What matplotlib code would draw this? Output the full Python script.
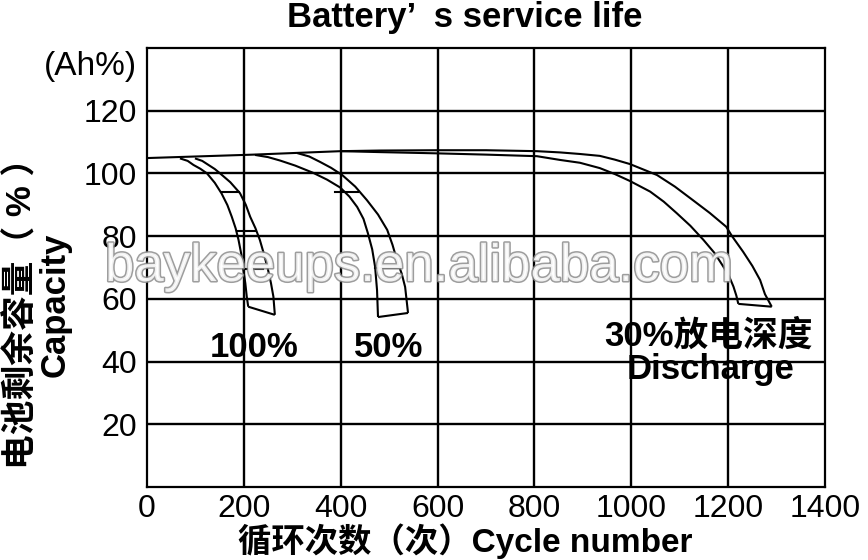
import matplotlib
matplotlib.use('Agg')
import matplotlib.pyplot as plt
import matplotlib.patheffects as pe

plt.rcParams['font.family'] = ['Liberation Sans', 'Noto Sans CJK SC', 'DejaVu Sans']

# ---------------- data ----------------
title = "Battery’  s service life"
x_label = "循环次数（次）Cycle number"
y_label_cn = "电池剩余容量（ % ）"
y_label_en = "Capacity"
unit_label = "(Ah%)"
watermark = "baykeeups.en.alibaba.com"

x_ticks = [0, 200, 400, 600, 800, 1000, 1200, 1400]
y_ticks = [20, 40, 60, 80, 100, 120]

# 30% depth of discharge (upper curve includes the common top line)
d30_upper_x = [0, 100, 220, 400, 480, 600, 700, 805, 853, 894, 935, 966, 997, 1053, 1090, 1127, 1162, 1196, 1208, 1231, 1250, 1266, 1276, 1290]
d30_upper_y = [104.9, 105.4, 106.0, 107.1, 107.3, 107.4, 107.4, 107.1, 106.7, 106.2, 105.6, 104.4, 103.0, 99.5, 95.8, 91.5, 87.4, 83.0, 80.0, 75.0, 70.5, 66.0, 61.5, 57.5]
d30_lower_x = [400, 481, 600, 700, 805, 853, 894, 935, 966, 997, 1039, 1067, 1094, 1122, 1149, 1172, 1190, 1202, 1211, 1217, 1221]
d30_lower_y = [107.1, 106.8, 106.4, 106.0, 105.5, 104.3, 103.4, 101.7, 99.8, 97.6, 94.2, 91.0, 87.3, 83.3, 78.8, 74.6, 70.3, 67.2, 63.9, 61.0, 58.4]
d30_bottom_x = [1221, 1290]
d30_bottom_y = [58.4, 57.5]

# 50% depth of discharge
d50_inner_x = [223, 250, 275, 306, 343, 372, 399, 418, 434, 447, 456, 465, 471, 475, 477]
d50_inner_y = [105.9, 105.2, 104.1, 102.5, 100.2, 98.0, 95.5, 92.6, 89.3, 85.5, 81.0, 75.8, 70.2, 62.8, 54.2]
d50_outer_x = [310, 335, 357, 380, 403, 430, 454, 477, 496, 507, 516, 526, 533, 539]
d50_outer_y = [106.5, 105.4, 103.7, 101.8, 99.5, 95.8, 91.5, 86.9, 82.0, 77.2, 72.4, 68.0, 63.8, 55.5]
d50_bottom_x = [477, 539]
d50_bottom_y = [54.2, 55.5]
d50_rungs = [(94.1, 388, 436), (69.8, 471, 518)]

# 100% depth of discharge
d100_inner_x = [68, 84, 96, 110, 124, 140, 154, 166, 175, 183, 189, 195, 199, 203, 206, 209]
d100_inner_y = [104.8, 104.0, 102.7, 101.5, 100.0, 97.0, 93.6, 89.9, 86.2, 82.5, 78.8, 74.0, 69.2, 65.0, 60.7, 57.5]
d100_outer_x = [99, 114, 127, 140, 151, 172, 192, 204, 213, 224, 233, 242, 250, 256, 261, 264]
d100_outer_y = [104.8, 104.0, 102.7, 101.4, 100.0, 97.2, 93.7, 90.0, 86.2, 82.5, 78.8, 74.0, 69.2, 65.0, 60.7, 54.9]
d100_bottom_x = [209, 264]
d100_bottom_y = [57.5, 54.9]
d100_rungs = [(94.1, 155, 190), (81.6, 186, 223), (69.5, 198, 240)]

labels = [("100%", 221, 44.6), ("50%", 498, 44.6),
          ("30%放电深度", 1159, 48.0), ("Discharge", 1163, 37.6)]

# ---------------- figure ----------------
fig = plt.figure(figsize=(8.68, 5.6), dpi=100)
ax = fig.add_axes([147 / 868, 1 - 487 / 560, 678 / 868, 439 / 560])

ax.set_xlim(0, 1400)
ax.set_ylim(0, 140)
ax.set_xticks(x_ticks)
ax.set_yticks(y_ticks)
ax.tick_params(length=0, labelsize=23)
ax.tick_params(axis='x', pad=5)
ax.tick_params(axis='y', pad=7)
for s in ax.spines.values():
    s.set_linewidth(1.6)
    s.set_color('black')

for xv in x_ticks[1:-1]:
    ax.axvline(xv, color='black', lw=1.7, zorder=1)
for yv in y_ticks:
    ax.axhline(yv, color='black', lw=1.7, zorder=1)

lw = 1.5
for xs, ys in [(d30_upper_x, d30_upper_y), (d30_lower_x, d30_lower_y), (d30_bottom_x, d30_bottom_y),
               (d50_inner_x, d50_inner_y), (d50_outer_x, d50_outer_y), (d50_bottom_x, d50_bottom_y),
               (d100_inner_x, d100_inner_y), (d100_outer_x, d100_outer_y), (d100_bottom_x, d100_bottom_y)]:
    ax.plot(xs, ys, color='black', lw=lw, zorder=3, solid_capstyle='butt', solid_joinstyle='round')
for yv, x0, x1 in d50_rungs + d100_rungs:
    ax.plot([x0, x1], [yv, yv], color='black', lw=lw, zorder=3)

for txt, xv, yv in labels:
    ax.text(xv, yv, txt, ha='center', va='center', fontsize=25, fontweight='bold', zorder=4)

fig.text(465 / 868, 1 - 18 / 560, title, ha='center', va='center', fontsize=25, fontweight='bold')
fig.text(465 / 868, 1 - 541 / 560, x_label, ha='center', va='center', fontsize=24, fontweight='bold')
fig.text(22 / 868, 1 - 305 / 560, y_label_cn, ha='center', va='center', rotation=90,
         fontsize=25, fontweight='bold')
fig.text(55 / 868, 1 - 305 / 560, y_label_en, ha='center', va='center', rotation=90,
         fontsize=25, fontweight='bold')
fig.text(137 / 868, 1 - 67 / 560, unit_label, ha='right', va='center', fontsize=24)

fig.text(105 / 868, 1 - 281 / 560, watermark, ha='left', va='baseline', fontsize=38,
         color='white', alpha=0.85, zorder=10,
         path_effects=[pe.withStroke(linewidth=2.2, foreground='#8c8c8c')])

fig.savefig('out.png', dpi=100)
